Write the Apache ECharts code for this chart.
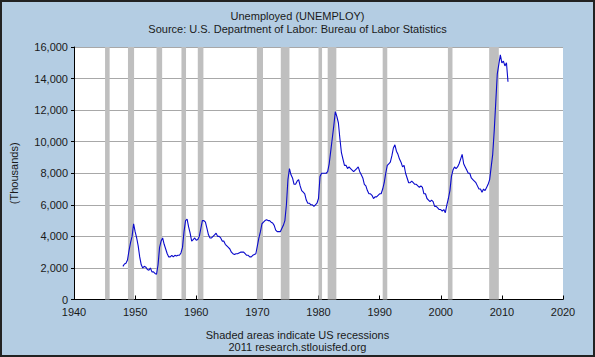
<!DOCTYPE html>
<html><head><meta charset="utf-8">
<script src="https://cdn.jsdelivr.net/npm/echarts@6/dist/echarts.min.js"></script>
<style>html,body{margin:0;padding:0;background:#B4CDE3;}#c{width:595px;height:357px;}</style>
</head><body><div id="c"></div>
<script>
// Unemployed persons, thousands, quarterly readings starting 1948 Q1
const startYear = 1948;
const unemployed = [
 2100,2250,2300,2500,
 3100,3600,4000,4800,
 4300,3900,3400,2700,
 2200,2000,2100,2050,
 1900,1850,2000,1750,
 1750,1650,1600,2200,
 3300,3700,3900,3500,
 3200,2900,2700,2700,
 2800,2700,2800,2750,
 2800,2800,2950,3300,
 4300,5000,5100,4600,
 4200,3700,3800,3900,
 3750,3800,4000,4500,
 5000,5000,4900,4500,
 4100,3900,3900,4000,
 4100,4200,4000,4000,
 3900,3700,3700,3500,
 3400,3300,3200,3000,
 2900,2850,2900,2900,
 2950,3000,3000,3000,
 2900,2800,2800,2700,
 2700,2800,2850,2900,
 3400,3900,4300,4800,
 4900,5000,5050,5000,
 5000,4900,4850,4700,
 4400,4300,4300,4300,
 4500,4700,5000,6000,
 7600,8300,7900,7700,
 7300,7300,7500,7600,
 7200,6900,6800,6700,
 6300,6100,6100,6000,
 6000,5900,6000,6100,
 6400,7800,8000,8000,
 8000,8000,8100,8600,
 9400,10200,11000,11900,
 11600,11200,10200,9300,
 8900,8500,8500,8300,
 8400,8300,8200,8100,
 8200,8300,8400,8100,
 7900,7700,7300,7200,
 6900,6700,6700,6600,
 6400,6500,6500,6600,
 6700,6700,7000,7400,
 8000,8500,8600,8700,
 9100,9600,9800,9400,
 9200,8900,8700,8400,
 8500,8000,7700,7400,
 7400,7500,7400,7300,
 7300,7200,7100,7200,
 7100,6700,6700,6400,
 6300,6200,6300,6200,
 5900,5900,5800,5700,
 5700,5600,5700,5500,
 6000,6400,6900,7800,
 8200,8400,8300,8400,
 8600,8900,9200,8600,
 8400,8200,8000,8000,
 7700,7600,7500,7400,
 7200,7000,7000,6800,
 7000,6900,7100,7300,
 7600,8400,9200,10700,
 12500,14300,14900,15500,
 15000,15100,14800,15000,
 13800
];
// NBER recessions [start, end] in decimal years
const recessions = [
 [1945.08,1945.83],[1948.83,1949.83],[1953.5,1954.42],[1957.58,1958.33],
 [1960.25,1961.17],[1969.92,1970.92],[1973.83,1975.25],[1980.0,1980.58],
 [1981.5,1982.92],[1990.5,1991.25],[2001.17,2001.92],[2007.92,2009.5]
];
const xTicks = {min:1940, max:2020, step:10};
const yTicks = {min:0, max:16000, step:2000};

const seriesData = unemployed.map((v,i)=>[startYear + i/4, v]);
const font = 'Liberation Sans, Arial, sans-serif';

const chart = echarts.init(document.getElementById('c'), null, {renderer:'svg'});
chart.setOption({
  backgroundColor:'#B4CDE3',
  animation:false,
  title:[
    {text:'Unemployed (UNEMPLOY)', subtext:'Source: U.S. Department of Labor: Bureau of Labor Statistics',
     left:'center', top:5, itemGap:2,
     textStyle:{fontSize:11, fontWeight:'normal', color:'#1a1a1a', fontFamily:font},
     subtextStyle:{fontSize:11, color:'#1a1a1a', fontFamily:font}},
    {text:'Shaded areas indicate US recessions', subtext:'2011 research.stlouisfed.org',
     left:'center', top:324, itemGap:1,
     textStyle:{fontSize:11, fontWeight:'normal', color:'#1a1a1a', fontFamily:font},
     subtextStyle:{fontSize:11, color:'#1a1a1a', fontFamily:font}}
  ],
  graphic:[
    {type:'rect', shape:{x:1,y:1,width:593,height:355}, style:{fill:'none', stroke:'#222', lineWidth:2}, silent:true}
  ],
  grid:{left:68, right:32, top:47, bottom:57.5, show:true, backgroundColor:'#ffffff', borderWidth:0},
  xAxis:{type:'value', min:xTicks.min, max:xTicks.max, interval:xTicks.step,
    axisLine:{show:true, onZero:false, lineStyle:{color:'#000', width:1}},
    axisTick:{show:true, inside:true, length:4, lineStyle:{color:'#000'}},
    axisLabel:{color:'#1a1a1a', fontSize:11, fontFamily:font, margin:7, formatter:v=>String(v)},
    splitLine:{show:false}},
  yAxis:{type:'value', min:yTicks.min, max:yTicks.max, interval:yTicks.step,
    name:'(Thousands)', nameLocation:'middle', nameGap:55, nameRotate:90,
    nameTextStyle:{fontSize:11, color:'#1a1a1a', fontFamily:font},
    axisLine:{show:true, lineStyle:{color:'#000', width:1}},
    axisTick:{show:true, length:3, lineStyle:{color:'#000'}},
    axisLabel:{color:'#1a1a1a', fontSize:11, fontFamily:font, margin:6,
      formatter:v=>v.toLocaleString('en-US')},
    splitLine:{show:true, lineStyle:{color:'#A8A8A8', width:1}}},
  series:[{
    type:'line', data:seriesData, showSymbol:false, symbol:'none',
    lineStyle:{color:'#0A0ACC', width:1.1},
    markArea:{silent:true, itemStyle:{color:'#BFBFBF', opacity:1},
      data:recessions.map(r=>[{xAxis:r[0]},{xAxis:r[1]}])},
    z:3
  }]
});
</script></body></html>
